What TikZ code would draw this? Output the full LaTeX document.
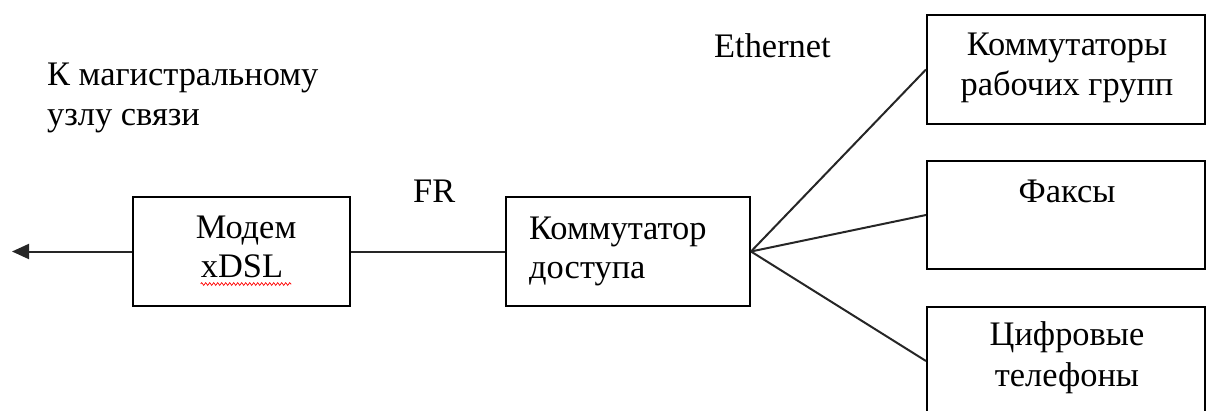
\documentclass[tikz,border=0pt]{standalone}
\usepackage{fontspec}
\setmainfont{Liberation Serif}
\usetikzlibrary{arrows.meta,decorations.pathmorphing}
\begin{document}
\begin{tikzpicture}[x=1pt,y=-1pt,
  box/.style={draw=black,line width=2pt,inner sep=0pt},
  txt/.style={inner sep=0pt,font=\fontsize{34.4}{40}\selectfont},
  conn/.style={draw=black!85,line width=2pt}]
  \useasboundingbox (0,0) rectangle (1211,410);
  \clip (0,0) rectangle (1211,410);

  % equipment boxes
  \node[box,minimum width=217pt,minimum height=109pt] (modem)  at (241.5,251.5) {};
  \node[box,minimum width=244pt,minimum height=109pt] (access) at (628,251.5) {};
  \node[box,minimum width=278pt,minimum height=109pt] (wg)     at (1066,69.5) {};
  \node[box,minimum width=278pt,minimum height=108pt] (fax)    at (1066,215) {};
  \node[box,minimum width=278pt,minimum height=109pt] (phone)  at (1066,361) {};

  % box captions
  \node[txt,anchor=base] (modemA) at (246,238) {Модем};
  \node[txt,anchor=base] (modemB) at (242,277) {xDSL};
  \node[txt,anchor=base west] (accessA) at (529,239) {Коммутатор};
  \node[txt,anchor=base west] (accessB) at (529,278) {доступа};
  \node[txt,anchor=base] (wgA) at (1067,55) {Коммутаторы};
  \node[txt,anchor=base] (wgB) at (1067,95) {рабочих групп};
  \node[txt,anchor=base] (faxA) at (1067,202) {Факсы};
  \node[txt,anchor=base] (phoneA) at (1067,345) {Цифровые};
  \node[txt,anchor=base] (phoneB) at (1067,386) {телефоны};

  % spell-check underline
  \draw[red,line width=0.7pt,decorate,decoration={zigzag,amplitude=1.4pt,segment length=4pt}]
    ([yshift=-7pt]modemB.base west) -- ([xshift=8pt,yshift=-7pt]modemB.base east);

  % free labels
  \node[txt,anchor=base west] (dest1) at (47,85) {К магистральному};
  \node[txt,anchor=base west] (dest2) at (47,125) {узлу связи};
  \node[txt,anchor=base west] (fr) at (413,202) {FR};
  \node[txt,anchor=base west] (eth) at (714,57) {Ethernet};

  % links
  \coordinate (uplink) at (12,251.5);
  \draw[conn,-{Triangle[length=17pt,width=15pt]}] (modem.west) -- (uplink);
  \draw[conn] (modem.east) -- (access.west);
  \draw[conn] (access.east) -- (wg.west);
  \draw[conn] (access.east) -- (fax.west);
  \draw[conn] (access.east) -- (phone.west);
\end{tikzpicture}
\end{document}
